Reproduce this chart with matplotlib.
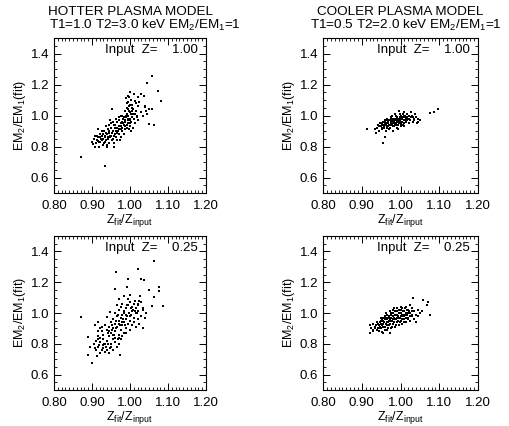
import numpy as np
import matplotlib
matplotlib.use("Agg")
import matplotlib.pyplot as plt
from matplotlib.ticker import MultipleLocator, FormatStrFormatter

plt.rcParams['font.family'] = ['Liberation Sans', 'DejaVu Sans']
plt.rcParams['mathtext.fontset'] = 'custom'
plt.rcParams['mathtext.rm'] = 'Liberation Sans'

# hotter model, input Z = 1.00
hot1_x = [1.059, 1.073, 1.082, 1.046, 1.028, 1.037, 1.011, 0.996, 0.990, 1.039, 1.042, 1.059,
          1.050, 1.064, 0.952, 1.013, 0.903, 0.899, 0.871, 0.934, 0.939, 0.958, 0.974, 0.921, 0.917,
          0.992, 0.998, 1.002, 0.995, 1.000, 0.990, 1.004, 0.996, 0.988, 1.003, 0.994, 0.999, 0.986,
          1.006, 0.997, 0.991, 1.001, 0.983, 1.008, 0.993, 1.010, 1.012, 1.015, 0.980, 0.985, 1.002,
          1.007, 1.018, 1.020, 0.978,
          0.975, 0.970, 0.965, 0.960, 0.968, 0.958, 0.955, 0.950, 0.945, 0.948, 0.940, 0.942, 0.935,
          0.938, 0.930, 0.932, 0.928, 0.925, 0.922, 0.920, 0.915, 0.912, 0.910, 0.918, 0.905, 0.908,
          0.952, 0.958, 0.962, 0.966, 0.972, 0.976, 0.980, 0.984, 0.988, 0.955, 0.948, 0.944, 0.936,
          0.963, 0.970, 0.975, 0.978, 0.960, 0.945, 0.940, 0.932, 0.926, 0.915, 0.950,
          1.020, 1.025, 1.015, 1.030, 1.035, 1.045, 1.050, 1.040, 1.022, 1.010, 1.000,
          0.995, 1.000, 0.993, 0.998, 1.003, 0.989, 0.996, 1.001, 0.994, 0.999,
          0.987, 1.005, 0.982, 0.977, 0.972, 0.967, 0.962, 0.957, 0.953, 0.947,
          0.943, 0.937, 0.933, 0.927, 0.923, 0.919, 0.913, 0.909, 0.961, 0.966,
          0.971, 0.981, 0.986, 0.976, 0.956, 0.946, 0.941, 0.951, 0.929, 0.934,
          1.009, 1.014, 1.019, 1.004, 0.991, 0.997]
hot1_y = [1.255, 1.160, 1.094, 1.208, 1.139, 1.128, 1.139, 1.128, 1.111, 1.057, 1.031, 1.040,
          0.945, 0.939, 1.040, 1.096, 0.814, 0.827, 0.730, 0.676, 0.795, 0.799, 0.842, 0.863, 0.835,
          1.08, 1.06, 1.10, 1.04, 1.02, 1.00, 0.99, 0.98, 0.97, 0.96, 0.95, 0.93, 1.03,
          1.05, 1.12, 1.01, 0.97, 0.99, 1.01, 0.92, 0.98, 0.95, 1.03, 0.96, 0.94, 0.90,
          0.92, 1.00, 0.97, 1.00,
          0.95, 0.93, 0.96, 0.92, 0.90, 0.94, 0.90, 0.92, 0.89, 0.86, 0.88, 0.91, 0.86,
          0.84, 0.88, 0.90, 0.85, 0.87, 0.83, 0.88, 0.86, 0.84, 0.82, 0.80, 0.85, 0.87,
          0.84, 0.82, 0.86, 0.84, 0.88, 0.86, 0.90, 0.88, 0.91, 0.96, 0.97, 0.94, 0.93,
          0.98, 0.99, 1.00, 0.92, 0.88, 0.82, 0.81, 0.82, 0.90, 0.91, 0.87,
          1.06, 1.09, 1.08, 1.02, 1.00, 1.01, 1.04, 1.06, 1.12, 1.14, 1.15,
          1.09, 1.07, 1.05, 1.03, 1.01, 0.99, 0.97, 0.95, 1.00, 0.98,
          0.96, 1.03, 0.98, 0.93, 0.91, 0.89, 0.90, 0.87, 0.89, 0.87,
          0.86, 0.89, 0.87, 0.84, 0.85, 0.83, 0.87, 0.80, 0.94, 0.92,
          0.97, 0.95, 0.93, 0.91, 0.85, 0.90, 0.85, 0.95, 0.81, 0.83,
          1.04, 1.01, 0.99, 1.07, 0.94, 0.91]

# cooler model, input Z = 1.00
cool1_x = [0.913, 0.956, 0.960, 1.076, 1.086, 1.096,
           0.940, 0.945, 0.950, 0.952, 0.955, 0.958, 0.960, 0.962, 0.965, 0.967, 0.970, 0.972,
           0.975, 0.977, 0.980, 0.982, 0.985, 0.987, 0.990, 0.992, 0.995, 0.997, 1.000, 1.002,
           1.005, 1.007, 1.010, 1.012, 1.015, 1.017, 1.020, 1.022, 1.025, 1.030, 1.035, 1.040,
           1.045, 1.050, 1.028, 1.010, 0.995, 0.985, 0.975, 0.965, 0.955, 0.948, 0.970, 0.980,
           0.990, 1.000, 1.010, 0.993, 0.978, 0.988, 0.998, 1.008, 1.018, 0.983, 0.973, 0.963,
           0.953, 0.943, 0.935, 0.938, 1.038, 1.032, 1.042, 0.960, 1.000, 0.990,
           0.948, 0.953, 0.958, 0.963, 0.968, 0.973, 0.978, 0.983, 0.988, 0.993, 0.998, 1.003,
           1.008, 1.013, 1.018, 1.023,
           0.951, 0.956, 0.961, 0.966, 0.971, 0.976, 0.981, 0.986, 0.991, 0.996, 1.001, 1.006,
           1.011, 1.016, 1.021, 1.026,
           0.964, 0.969, 0.974, 0.979, 0.984, 0.989, 0.994, 0.999, 1.004, 1.009, 1.014,
           0.976, 0.981, 0.986, 0.991, 0.996, 1.001, 1.006,
           0.944, 0.959, 1.031, 1.036, 1.046, 0.979, 0.989, 0.999, 1.009]
cool1_y = [0.911, 0.825, 0.863, 1.018, 1.021, 1.042,
           0.92, 0.90, 0.93, 0.91, 0.94, 0.92, 0.95, 0.90, 0.93, 0.96, 0.94, 0.92,
           0.95, 0.97, 0.93, 0.96, 0.98, 0.94, 0.96, 0.99, 0.95, 0.97, 1.00, 0.96,
           0.98, 0.94, 0.97, 0.99, 0.96, 1.01, 0.98, 0.95, 0.97, 1.00, 0.98, 0.99,
           0.96, 0.97, 1.02, 1.02, 1.03, 1.01, 0.99, 0.98, 0.96, 0.95, 0.91, 0.90,
           0.92, 0.93, 0.93, 0.91, 0.96, 0.97, 0.99, 1.00, 0.97, 0.95, 0.97, 0.95,
           0.92, 0.94, 0.91, 0.89, 1.01, 0.96, 0.95, 0.97, 0.945, 0.94,
           0.93, 0.94, 0.93, 0.94, 0.95, 0.94, 0.95, 0.96, 0.95, 0.96, 0.97, 0.96,
           0.97, 0.98, 0.99, 0.98,
           0.95, 0.96, 0.96, 0.97, 0.97, 0.98, 0.97, 0.97, 0.98, 0.98, 0.99, 0.99,
           1.00, 0.98, 1.00, 0.99,
           0.92, 0.93, 0.92, 0.94, 0.93, 0.95, 0.94, 0.95, 0.96, 0.95, 0.97,
           0.96, 0.98, 0.95, 0.97, 0.96, 0.98, 1.01,
           0.93, 0.94, 0.99, 0.97, 0.98, 1.00, 1.00, 1.01, 1.02]

# hotter model, input Z = 0.25
hot2_x = [1.062, 1.020, 0.962, 0.996, 1.028, 1.037, 0.960, 0.991, 1.050, 1.075, 1.075, 1.063,
          0.972, 1.026, 1.088, 1.057, 0.871, 1.035, 0.947, 0.939, 0.917, 0.908, 1.035, 0.899,
          0.890, 0.895, 0.974, 0.956, 0.890,
          0.905, 0.910, 0.915, 0.920, 0.925, 0.930, 0.935, 0.940, 0.945, 0.910, 0.915, 0.920,
          0.930, 0.935, 0.940, 0.945, 0.950, 0.955, 0.960, 0.965, 0.970, 0.975, 0.925, 0.930,
          0.940, 0.945, 0.950, 0.955, 0.960, 0.965, 0.970, 0.975, 0.980, 0.985, 0.990, 0.950,
          0.955, 0.960, 0.965, 0.970, 0.975, 0.980, 0.985, 0.990, 0.995, 1.000, 1.005, 1.010,
          1.015, 1.000, 1.005, 1.010, 1.015, 1.020, 1.025, 0.985, 0.990, 0.995, 1.000, 1.005,
          1.010, 1.015, 1.020, 0.975, 0.980, 0.970, 0.960, 0.965, 0.990, 1.020, 1.030, 1.025,
          1.030, 1.040, 0.995, 1.000, 0.985, 0.955, 0.945, 0.935, 0.925, 0.920, 0.915, 0.950,
          0.960, 0.970, 0.980, 0.990, 1.000,
          0.912, 0.918, 0.928, 0.938, 0.948, 0.958, 0.968, 0.978, 0.988, 0.998,
          1.008, 1.018, 0.922, 0.932, 0.942, 0.952, 0.962, 0.972, 0.982, 0.992,
          1.002, 1.012, 1.022, 0.907, 0.917, 0.943, 0.963, 0.983, 1.003, 1.013,
          0.953, 0.973, 0.993, 1.033, 1.043, 0.958, 0.968]
hot2_y = [1.338, 1.284, 1.264, 1.221, 1.219, 1.214, 1.156, 1.171, 1.149, 1.167, 1.145, 1.106,
          1.089, 1.112, 1.045, 1.047, 0.976, 1.034, 1.008, 0.976, 0.944, 0.922, 0.900, 0.673,
          0.727, 0.781, 0.727, 0.760, 0.846,
          0.80, 0.76, 0.78, 0.74, 0.76, 0.77, 0.75, 0.76, 0.74, 0.82, 0.85, 0.81,
          0.83, 0.80, 0.82, 0.85, 0.80, 0.83, 0.81, 0.78, 0.80, 0.83, 0.88, 0.86,
          0.89, 0.91, 0.87, 0.90, 0.88, 0.91, 0.86, 0.89, 0.92, 0.87, 0.90, 0.94,
          0.96, 0.93, 0.98, 0.95, 0.97, 0.99, 0.94, 0.96, 0.93, 0.95, 0.92, 0.94,
          0.91, 0.98, 1.01, 0.97, 1.00, 0.96, 0.93, 1.01, 1.03, 1.05, 1.07, 1.04,
          1.06, 1.03, 1.05, 1.04, 1.06, 1.02, 1.00, 1.05, 0.99, 1.01, 0.98, 1.08,
          1.07, 0.97, 1.09, 1.12, 1.11, 0.86, 0.88, 0.92, 0.91, 0.90, 0.83, 0.78,
          0.84, 0.84, 0.85, 0.87, 0.89,
          0.72, 0.79, 0.79, 0.78, 0.77, 0.86, 0.83, 0.94, 0.92, 1.00,
          1.02, 1.00, 0.84, 0.80, 0.87, 0.92, 0.90, 0.93, 0.96, 1.05,
          0.99, 1.01, 1.06, 0.77, 0.88, 0.80, 0.95, 1.00, 1.03, 1.08,
          0.89, 0.92, 0.98, 1.02, 1.00, 0.86, 0.99]

# cooler model, input Z = 0.25
cool2_x = [1.033, 1.059, 1.068, 1.076, 1.070, 0.921, 0.951, 0.973,
           0.920, 0.925, 0.930, 0.935, 0.940, 0.945, 0.950, 0.955, 0.960, 0.965, 0.970, 0.975,
           0.980, 0.985, 0.990, 0.995, 1.000, 1.005, 1.010, 1.015, 1.020, 1.025, 1.030, 1.035,
           1.040, 1.045, 0.950, 0.955, 0.960, 0.965, 0.970, 0.975, 0.980, 0.985, 0.990, 0.995,
           1.000, 1.005, 1.010, 1.015, 1.020, 1.025, 1.030, 0.945, 0.955, 0.965, 0.975, 0.985,
           0.995, 1.005, 1.015, 1.025, 1.035, 1.040, 0.930, 0.940, 0.950, 0.960, 0.970, 0.980,
           0.990, 1.000, 1.010, 1.020, 1.030, 0.985, 0.975, 0.965, 0.990, 1.000, 0.980, 1.045,
           1.050, 1.055,
           0.928, 0.933, 0.938, 0.943, 0.948, 0.953, 0.958, 0.963, 0.968, 0.973,
           0.978, 0.983, 0.988, 0.993, 0.998, 1.003, 1.008, 1.013, 1.018, 1.023,
           0.936, 0.941, 0.946, 0.951, 0.956, 0.961, 0.966, 0.971, 0.976, 0.981,
           0.986, 0.991, 0.996, 1.001, 1.006, 1.011, 1.016,
           0.944, 0.954, 0.964, 0.974, 0.984, 0.994, 1.004, 1.014, 1.024,
           0.959, 0.969, 0.979, 0.989, 0.999, 1.009, 1.019, 1.029,
           0.949, 0.962, 0.972, 0.982]
cool2_y = [1.100, 1.084, 1.052, 0.987, 1.070, 0.922, 0.879, 0.870,
           0.87, 0.90, 0.88, 0.91, 0.89, 0.92, 0.90, 0.93, 0.91, 0.94, 0.92, 0.95,
           0.93, 0.96, 0.94, 0.97, 0.95, 0.98, 0.96, 0.99, 0.97, 1.00, 0.98, 1.01,
           0.99, 1.02, 0.95, 0.97, 0.96, 0.99, 0.97, 1.00, 0.98, 1.01, 0.99, 1.02,
           1.00, 1.03, 1.01, 1.04, 1.02, 1.05, 1.03, 0.88, 0.87, 0.89, 0.90, 0.91,
           0.92, 0.93, 0.94, 0.95, 0.96, 0.94, 0.93, 0.94, 0.93, 0.98, 0.95, 0.96,
           0.97, 0.98, 0.99, 1.00, 1.01, 0.99, 0.97, 0.96, 1.03, 1.04, 1.02, 0.98,
           1.00, 1.01,
           0.89, 0.90, 0.92, 0.90, 0.91, 0.92, 0.94, 0.93, 0.94, 0.96,
           0.95, 0.97, 0.96, 0.98, 0.97, 0.99, 0.98, 1.00, 0.99, 1.01,
           0.92, 0.93, 0.94, 0.96, 0.95, 0.97, 0.97, 0.98, 0.99, 1.00,
           0.99, 1.01, 1.00, 1.02, 1.01, 1.03, 1.02,
           0.90, 0.91, 0.92, 0.93, 0.94, 0.95, 0.96, 0.97, 0.98,
           0.89, 0.90, 0.91, 0.92, 0.94, 0.94, 0.96, 0.99,
           0.97, 1.00, 1.01, 1.03]

title1 = ["HOTTER PLASMA MODEL", "COOLER PLASMA MODEL"]
title2 = ["T1=1.0 T2=3.0 keV EM$_2$/EM$_1$=1", "T1=0.5 T2=2.0 keV EM$_2$/EM$_1$=1"]
title2_left = [49, 310]
input_z = ["1.00", "1.00", "0.25", "0.25"]
panels = [(hot1_x, hot1_y), (cool1_x, cool1_y), (hot2_x, hot2_y), (cool2_x, cool2_y)]

W, H = 509, 426
fig = plt.figure(figsize=(W / 100, H / 100), dpi=100)
boxes = [(54, 38, 152, 155), (323, 38, 155, 155), (54, 236, 152, 154), (323, 236, 155, 154)]

for i, (bx, by, bw, bh) in enumerate(boxes):
    ax = fig.add_axes([bx / W, 1 - (by + bh) / H, bw / W, bh / H])
    xs, ys = panels[i]
    ax.plot(xs, ys, 's', color='black', markersize=1.9, markeredgewidth=0)
    ax.set_xlim(0.8, 1.2)
    ax.set_ylim(0.5, 1.5)
    ax.xaxis.set_major_locator(MultipleLocator(0.1))
    ax.xaxis.set_minor_locator(MultipleLocator(0.01))
    ax.yaxis.set_minor_locator(MultipleLocator(0.05))
    ax.set_yticks([0.6, 0.8, 1.0, 1.2, 1.4])
    ax.xaxis.set_major_formatter(FormatStrFormatter('%.2f'))
    ax.yaxis.set_major_formatter(FormatStrFormatter('%.1f'))
    ax.tick_params(which='both', direction='in', top=True, right=True, labelsize=9.5)
    ax.tick_params(axis='x', pad=5)
    ax.tick_params(axis='y', pad=3.5)
    ax.tick_params(which='major', length=5, width=0.7)
    ax.tick_params(which='minor', length=2, width=0.6)
    for s in ax.spines.values():
        s.set_linewidth(0.8)
    ax.set_xlabel('Z$_{\\rm fit}$/Z$_{\\rm input}$', fontsize=9, labelpad=0)
    ax.set_ylabel('EM$_2$/EM$_1$(fit)', fontsize=9)
    ax.yaxis.set_label_coords(-0.17, 0.5)
    ax.text(1.178, 1.42, 'Input  Z=    ' + input_z[i], ha='right', va='center', fontsize=9.5)
    if i < 2:
        cx = (bx + bw / 2) / W
        fig.text(cx, 1 - 12 / H, title1[i], ha='center', va='center', fontsize=9.7)
        fig.text(title2_left[i] / W, 1 - 25 / H, title2[i], ha='left', va='center',
                 fontsize=9.7)

fig.savefig('out.png', dpi=100)
